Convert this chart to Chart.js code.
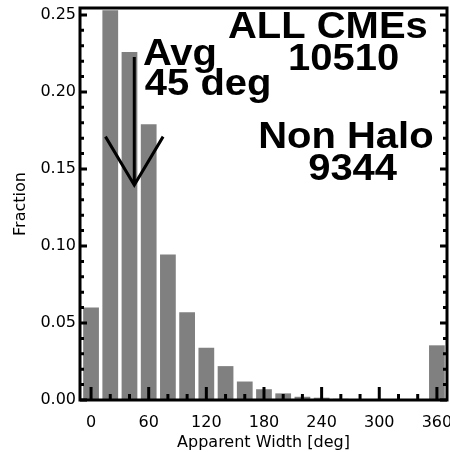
<!DOCTYPE html>
<html>
<head>
<meta charset="utf-8">
<script src="https://cdn.jsdelivr.net/npm/chart.js@4.4.1/dist/chart.umd.min.js"></script>
<style>
	body { margin: 0; background: #fff; }
	canvas { display: block; }
</style>
</head>
<body>
<canvas id="width-chart" width="450" height="452"></canvas>
<script>
// histogram of CME apparent widths, 20 deg bins
const binCenters = [0, 20, 40, 60, 80, 100, 120, 140, 160, 180, 200, 220, 240, 260, 280, 300, 320, 340, 360];
const fractions = [0.060, 0.253, 0.226, 0.179, 0.0945, 0.057, 0.034, 0.022, 0.012, 0.007, 0.0043, 0.0021, 0.0015, 0.0008, 0.0006, 0.0002, 0.0001, 0.0001, 0.0355];

const xTickValues = [0, 60, 120, 180, 240, 300, 360];
const yTickValues = [0, 0.05, 0.10, 0.15, 0.20, 0.25];

const avgWidth = 45;
const notes = [
	{ text: "Avg", x: 54, y: 0.2175 },
	{ text: "45 deg", x: 56, y: 0.198 },
	{ text: "ALL CMEs", x: 142.5, y: 0.235 },
	{ text: "10510", x: 205, y: 0.2143 },
	{ text: "Non Halo", x: 174, y: 0.1636 },
	{ text: "9344", x: 226, y: 0.1428 }
];

const boxPlugin =
{
	id: "idlBox",
	afterDatasetsDraw(chart)
	{
		const ctx = chart.ctx;
		const area = chart.chartArea;
		const xs = chart.scales.x;
		const ys = chart.scales.y;

		ctx.save();
		ctx.strokeStyle = "#000";
		ctx.lineWidth = 3;
		ctx.lineCap = "butt";
		ctx.strokeRect(area.left, area.top, area.right - area.left, area.bottom - area.top);

		// x ticks, inward from the bottom
		for (let v = 0; v <= 360; v += 20)
		{
			const px = xs.getPixelForValue(v);
			const len = (v % 60 === 0) ? 13 : 6;
			ctx.beginPath();
			ctx.moveTo(px, area.bottom);
			ctx.lineTo(px, area.bottom - len);
			ctx.stroke();
		}

		// y ticks on both sides
		for (let i = 0; i <= 25; i++)
		{
			const py = ys.getPixelForValue(i / 100);
			const len = (i % 5 === 0) ? 7 : 4;
			ctx.beginPath();
			ctx.moveTo(area.left, py);
			ctx.lineTo(area.left + len, py);
			ctx.moveTo(area.right, py);
			ctx.lineTo(area.right - len, py);
			ctx.stroke();
		}

		// average arrow
		const tipX = xs.getPixelForValue(avgWidth);
		const tipY = ys.getPixelForValue(0.1396);
		ctx.beginPath();
		ctx.moveTo(tipX, ys.getPixelForValue(0.2227));
		ctx.lineTo(tipX, tipY);
		ctx.moveTo(xs.getPixelForValue(avgWidth - 30), ys.getPixelForValue(0.171));
		ctx.lineTo(tipX, tipY);
		ctx.lineTo(xs.getPixelForValue(avgWidth + 30), ys.getPixelForValue(0.171));
		ctx.stroke();

		ctx.fillStyle = "#000";
		ctx.font = "bold 37px 'Liberation Sans', Arial, sans-serif";
		ctx.textAlign = "left";
		ctx.textBaseline = "alphabetic";
		for (const note of notes)
		{
			ctx.save();
			ctx.translate(xs.getPixelForValue(note.x), ys.getPixelForValue(note.y));
			ctx.scale(1.08, 1);
			ctx.fillText(note.text, 0, 0);
			ctx.restore();
		}
		ctx.restore();
	}
};

const config =
{
	type: "bar",
	data:
	{
		datasets:
		[
			{
				label: "Fraction",
				data: binCenters.map((c, i) => ({ x: c, y: fractions[i] })),
				backgroundColor: "#808080",
				borderWidth: 0,
				barPercentage: 0.82,
				categoryPercentage: 1.0
			}
		]
	},
	options:
	{
		responsive: false,
		animation: false,
		devicePixelRatio: 1,
		layout: { padding: { top: 8, right: 3, left: 0, bottom: 0 } },
		plugins: { legend: { display: false }, tooltip: { enabled: false } },
		scales:
		{
			x:
			{
				type: "linear",
				offset: false,
				min: -11.5,
				max: 370.5,
				grid: { display: false, drawTicks: false },
				border: { display: false },
				afterBuildTicks: (axis) => { axis.ticks = xTickValues.map(v => ({ value: v })); },
				afterFit: (axis) => { axis.height = 52; axis.paddingLeft = 0; axis.paddingRight = 0; },
				ticks:
				{
					color: "#000",
					padding: 13,
					maxRotation: 0,
					font: { family: "'DejaVu Sans'", size: 16 },
					callback: (v) => String(v)
				},
				title:
				{
					display: true,
					text: "Apparent Width [deg]",
					color: "#000",
					font: { family: "'DejaVu Sans'", size: 16 },
					padding: { top: 0, bottom: 0 }
				}
			},
			y:
			{
				min: 0,
				max: 0.2545,
				grid: { display: false, drawTicks: false },
				border: { display: false },
				afterBuildTicks: (axis) => { axis.ticks = yTickValues.map(v => ({ value: v })); },
				afterFit: (axis) => { axis.width = 80; axis.paddingTop = 0; axis.paddingBottom = 0; },
				ticks:
				{
					color: "#000",
					padding: 4,
					font: { family: "'DejaVu Sans'", size: 16 },
					callback: (v) => v.toFixed(2)
				},
				title:
				{
					display: true,
					text: "Fraction",
					color: "#000",
					font: { family: "'DejaVu Sans'", size: 16 },
					padding: { top: 11, bottom: 0 }
				}
			}
		}
	},
	plugins: [boxPlugin]
};

new Chart(document.getElementById("width-chart"), config);
</script>
</body>
</html>
